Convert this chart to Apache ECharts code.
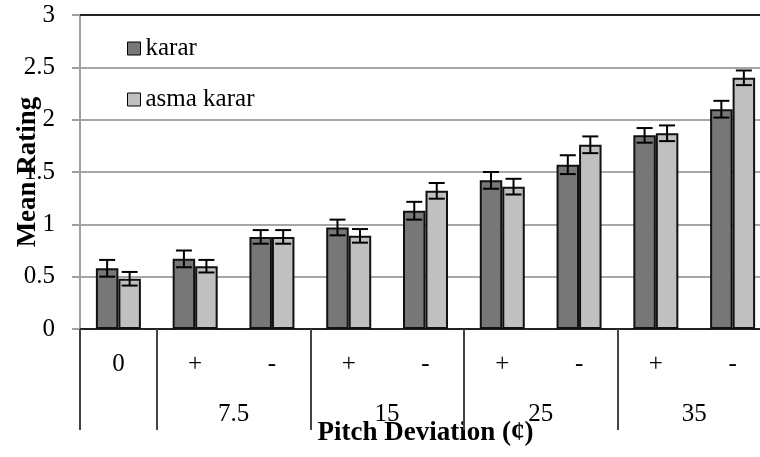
<!DOCTYPE html>
<html>
<head>
<meta charset="utf-8">
<script src="https://cdn.jsdelivr.net/npm/echarts@6/dist/echarts.min.js"></script>
<style>html,body{margin:0;padding:0;background:#fff}#c{width:760px;height:457px}</style>
</head>
<body>
<div id="c"></div>
<script>
const categories = ['0', '+', '-', '+', '-', '+', '-', '+', '-'];
const groupNames = ['', '7.5', '15', '25', '35'];
const groupSpans = [1, 2, 2, 2, 2];
const yTicks = [0, 0.5, 1, 1.5, 2, 2.5, 3];
const karar = [0.58, 0.67, 0.88, 0.97, 1.13, 1.42, 1.57, 1.85, 2.10];
const kararErr = [0.08, 0.08, 0.065, 0.075, 0.085, 0.08, 0.09, 0.07, 0.08];
const asma = [0.48, 0.60, 0.88, 0.89, 1.32, 1.36, 1.76, 1.87, 2.40];
const asmaErr = [0.065, 0.06, 0.065, 0.065, 0.075, 0.075, 0.08, 0.075, 0.07];

const FONT = 'Liberation Serif';
const FS = 25;
const BARW = 0.293;

// build half-step group axis data (boundaries and centers)
const groupAxis = [];
const groupTickIdx = new Set([0]);
let pos = 0;
for (let g = 0; g < groupSpans.length; g++) {
  const start = pos * 2, end = (pos + groupSpans[g]) * 2;
  for (let k = groupAxis.length; k <= end; k++) groupAxis.push('');
  if (groupNames[g]) groupAxis[(start + end) / 2] = groupNames[g];
  groupTickIdx.add(end);
  pos += groupSpans[g];
}

function errSeries(name, vals, errs, side) {
  return {
    type: 'custom', name: name, z: 10,
    data: vals.map((v, i) => [i, v, errs[i]]),
    renderItem: function (params, api) {
      const i = api.value(0), v = api.value(1), e = api.value(2);
      const band = api.size([1, 0])[0];
      const bw = band * BARW;
      const top = api.coord([i, v + e]);
      const bot = api.coord([i, v - e]);
      const x = top[0] + side * bw / 2;
      const cap = 8;
      const st = { stroke: '#000', lineWidth: 2 };
      return { type: 'group', children: [
        { type: 'line', shape: { x1: x, y1: top[1], x2: x, y2: bot[1] }, style: st },
        { type: 'line', shape: { x1: x - cap, y1: top[1], x2: x + cap, y2: top[1] }, style: st },
        { type: 'line', shape: { x1: x - cap, y1: bot[1], x2: x + cap, y2: bot[1] }, style: st }
      ]};
    }
  };
}

const chart = echarts.init(document.getElementById('c'));
chart.setOption({
  animation: false,
  textStyle: { fontFamily: FONT },
  grid: { left: 80, top: 15, right: -11, bottom: 128, containLabel: false, outerBoundsMode: 'none' },
  legend: {
    data: ['karar', 'asma karar'],
    orient: 'vertical', left: 122, top: 31,
    itemWidth: 13, itemHeight: 13, itemGap: 26,
    icon: 'rect',
    itemStyle: { borderColor: '#000', borderWidth: 1 },
    textStyle: { fontFamily: FONT, fontSize: FS, lineHeight: 25, color: '#000', padding: [0, 0, 0, 0] }
  },
  xAxis: [
    {
      type: 'category', data: categories, position: 'bottom', boundaryGap: true,
      axisLine: { lineStyle: { color: '#222', width: 2 } },
      axisTick: { length: 51, lineStyle: { color: '#444', width: 2 } },
      axisLabel: { margin: 23, color: '#000', fontSize: FS, fontFamily: FONT, interval: 0 },
      splitLine: { show: false }
    },
    {
      type: 'category', data: groupAxis, position: 'bottom', boundaryGap: false,
      axisLine: { show: false },
      axisTick: { length: 101, interval: (i) => groupTickIdx.has(i), lineStyle: { color: '#444', width: 2 } },
      axisLabel: { margin: 73, color: '#000', fontSize: FS, fontFamily: FONT, interval: 0 },
      name: 'Pitch Deviation (¢)', nameLocation: 'middle', nameGap: 91, nameMoveOverlap: false,
      nameTextStyle: { fontFamily: FONT, fontSize: 27, fontWeight: 'bold', color: '#000' },
      splitLine: { show: false }
    },
    {
      type: 'category', data: categories, position: 'top',
      axisLine: { lineStyle: { color: '#222', width: 2 } },
      axisTick: { show: false }, axisLabel: { show: false }
    }
  ],
  yAxis: {
    type: 'value', min: yTicks[0], max: yTicks[yTicks.length - 1], interval: 0.5,
    axisLine: { show: true, lineStyle: { color: '#a0a0a0', width: 2 } },
    axisTick: { show: true, length: 8, lineStyle: { color: '#a0a0a0', width: 2 } },
    axisLabel: { margin: 25, color: '#000', fontSize: FS, fontFamily: FONT },
    splitLine: { lineStyle: { color: '#a6a6a6', width: 2 } },
    name: 'Mean Rating', nameLocation: 'middle', nameGap: 38, nameMoveOverlap: false,
    nameTextStyle: { fontFamily: FONT, fontSize: 27, fontWeight: 'bold', color: '#000' }
  },
  series: [
    {
      type: 'bar', name: 'karar', data: karar, barWidth: (BARW * 100) + '%', barGap: '0%',
      itemStyle: { color: '#777777', borderColor: '#111', borderWidth: 2 }
    },
    {
      type: 'bar', name: 'asma karar', data: asma, barWidth: (BARW * 100) + '%', barGap: '0%',
      itemStyle: { color: '#c0c0c0', borderColor: '#111', borderWidth: 2 }
    },
    errSeries('karar err', karar, kararErr, -1),
    errSeries('asma err', asma, asmaErr, 1)
  ]
});
</script>
</body>
</html>
